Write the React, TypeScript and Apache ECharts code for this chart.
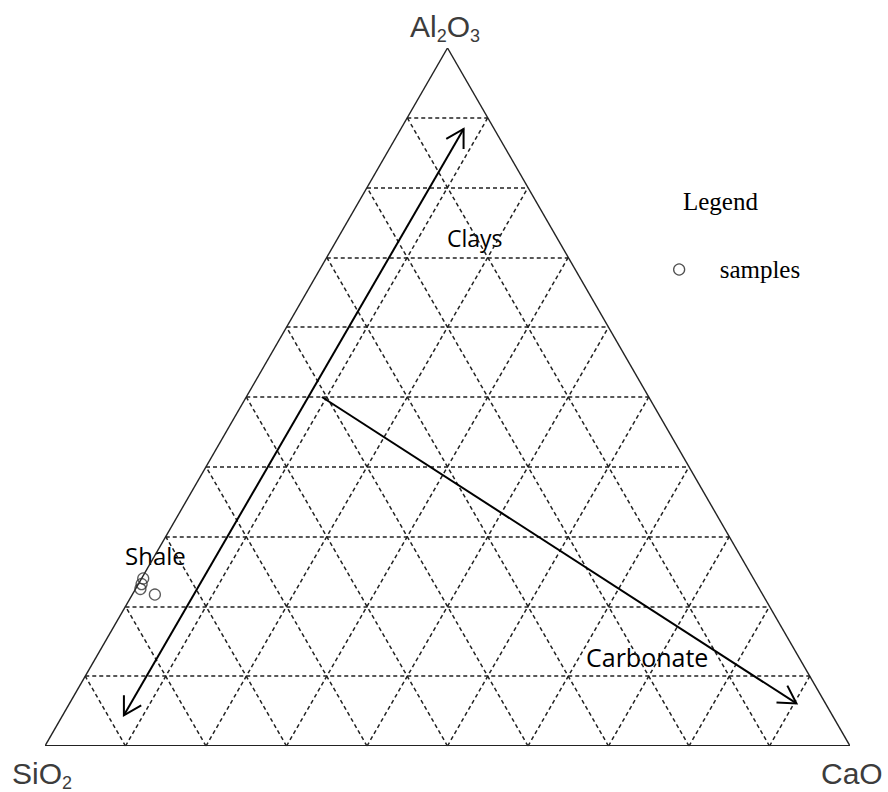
import React, { useEffect, useRef } from "react";
import * as echarts from "echarts";

// ternary grid levels (fractions)
const GRID_LEVELS = [0.1, 0.2, 0.3, 0.4, 0.5, 0.6, 0.7, 0.8, 0.9];

// samples (wt %)
const SAMPLE_SIO2 = [75.8, 76.4, 76.9, 75.5];
const SAMPLE_AL2O3 = [24.0, 23.2, 22.5, 21.7];
const SAMPLE_CAO = [0.2, 0.4, 0.6, 2.8];

// trend arrows (wt %)
const ARROW_START_AL2O3 = [4.4, 50.0];
const ARROW_START_CAO = [7.6, 9.4];
const ARROW_END_AL2O3 = [88.4, 6.1];
const ARROW_END_CAO = [7.8, 90.3];
const ARROW_BOTH_HEADS = [1, 0];

// field labels
const FIELD_LABELS = ["Clays", "Shale", "Carbonate"];

const toXY = (al: number, ca: number, total = 100): [number, number] => [
  (ca + al / 2) / total,
  al / total,
];

export default function App() {
  const ref = useRef<HTMLDivElement>(null);

  useEffect(() => {
    if (!ref.current) return;
    const chart = echarts.init(ref.current, null, { renderer: "svg" });

    const gridLines: any[] = [];
    GRID_LEVELS.forEach((k) => {
      // constant Al2O3
      gridLines.push({ coords: [[k / 2, k], [1 - k / 2, k]] });
      // constant CaO
      gridLines.push({ coords: [[k, 0], [k + (1 - k) / 2, 1 - k]] });
      // constant SiO2
      gridLines.push({ coords: [[1 - k, 0], [(1 - k) / 2, 1 - k]] });
    });

    const sides = [
      { coords: [[0, 0], [0.5, 1]], lineStyle: { width: 1.4 } },
      { coords: [[0.5, 1], [1, 0]], lineStyle: { width: 1.4 } },
      { coords: [[0, 0], [1, 0]], lineStyle: { width: 2 } },
    ];

    const samples = SAMPLE_AL2O3.map((al, i) =>
      toXY(al, SAMPLE_CAO[i], SAMPLE_SIO2[i] + al + SAMPLE_CAO[i])
    );

    const arrows = ARROW_START_AL2O3.map((a, i) => [
      ...toXY(a, ARROW_START_CAO[i]),
      ...toXY(ARROW_END_AL2O3[i], ARROW_END_CAO[i]),
      ARROW_BOTH_HEADS[i],
    ]);

    const head = (tip: number[], from: number[]) => {
      const ang = Math.atan2(from[1] - tip[1], from[0] - tip[0]);
      const L = 20;
      const d = Math.PI / 6;
      return [
        [tip[0] + L * Math.cos(ang + d), tip[1] + L * Math.sin(ang + d)],
        tip,
        [tip[0] + L * Math.cos(ang - d), tip[1] + L * Math.sin(ang - d)],
      ];
    };

    const fieldFont = "Open Sans";
    const labelFill = "#3c3c3c";
    const formula = (parts: string) => ({
      text: parts,
      rich: {
        m: { fontSize: 30, fontFamily: "Liberation Sans", fill: labelFill },
        s: {
          fontSize: 18,
          fontFamily: "Liberation Sans",
          fill: labelFill,
          padding: [20, 0, 0, 0],
        },
      },
    });

    chart.setOption({
      animation: false,
      backgroundColor: "#fff",
      grid: { left: 45, right: 38, top: 48, bottom: 46 },
      xAxis: { type: "value", min: 0, max: 1, show: false },
      yAxis: { type: "value", min: 0, max: 1, show: false },
      title: {
        text: "Legend",
        left: 678,
        top: 184,
        textStyle: {
          fontFamily: "Liberation Serif",
          fontWeight: "normal",
          fontSize: 25,
          color: "#000",
        },
      },
      legend: {
        data: ["samples"],
        left: 668,
        top: 252,
        icon: "circle",
        itemWidth: 11,
        itemHeight: 11,
        itemStyle: { color: "rgba(0,0,0,0)", borderColor: "#222", borderWidth: 1.3 },
        textStyle: {
          fontFamily: "Liberation Serif",
          fontSize: 25,
          color: "#000",
          padding: [0, 0, 0, 30],
        },
      },
      series: [
        {
          type: "lines",
          coordinateSystem: "cartesian2d",
          silent: true,
          data: gridLines,
          lineStyle: { color: "#222", width: 1.5, type: [4, 3], opacity: 1 },
        },
        {
          type: "lines",
          coordinateSystem: "cartesian2d",
          silent: true,
          data: sides,
          lineStyle: { color: "#222", opacity: 1 },
        },
        {
          name: "samples",
          type: "scatter",
          symbol: "circle",
          symbolSize: 11,
          data: samples,
          itemStyle: { color: "rgba(0,0,0,0)", borderColor: "#333", borderWidth: 1.3 },
        },
        {
          type: "custom",
          silent: true,
          clip: false,
          data: arrows,
          renderItem: (params: any, api: any) => {
            const p1 = api.coord([api.value(0), api.value(1)]);
            const p2 = api.coord([api.value(2), api.value(3)]);
            const both = api.value(4) === 1;
            const st = { stroke: "#000", lineWidth: 2, fill: null };
            const children: any[] = [
              { type: "line", shape: { x1: p1[0], y1: p1[1], x2: p2[0], y2: p2[1] }, style: st },
              { type: "polyline", shape: { points: head(p2, p1) }, style: st },
            ];
            if (both) {
              children.push({ type: "polyline", shape: { points: head(p1, p2) }, style: st });
            }
            return { type: "group", children };
          },
        },
      ],
      graphic: [
        {
          type: "text",
          x: 410,
          y: 26,
          style: { ...formula("{m|Al}{s|2}{m|O}{s|3}"), verticalAlign: "middle" },
        },
        {
          type: "text",
          x: 12,
          y: 773,
          style: { ...formula("{m|SiO}{s|2}"), verticalAlign: "middle" },
        },
        {
          type: "text",
          x: 821,
          y: 773,
          style: {
            text: "CaO",
            fontSize: 30,
            fontFamily: "Liberation Sans",
            fill: labelFill,
            verticalAlign: "middle",
          },
        },
        {
          type: "text",
          x: 447,
          y: 238,
          style: { text: FIELD_LABELS[0], fontSize: 23, fontFamily: fieldFont, fill: "#000", verticalAlign: "middle" },
        },
        {
          type: "text",
          x: 125,
          y: 555,
          style: { text: FIELD_LABELS[1], fontSize: 24, fontFamily: fieldFont, fill: "#000", verticalAlign: "middle" },
        },
        {
          type: "text",
          x: 586,
          y: 657,
          style: { text: FIELD_LABELS[2], fontSize: 25, fontFamily: fieldFont, fill: "#000", verticalAlign: "middle" },
        },
      ],
    });

    return () => chart.dispose();
  }, []);

  return (
    <div
      ref={ref}
      style={{ position: "absolute", left: 0, top: 0, width: 888, height: 792 }}
    />
  );
}
